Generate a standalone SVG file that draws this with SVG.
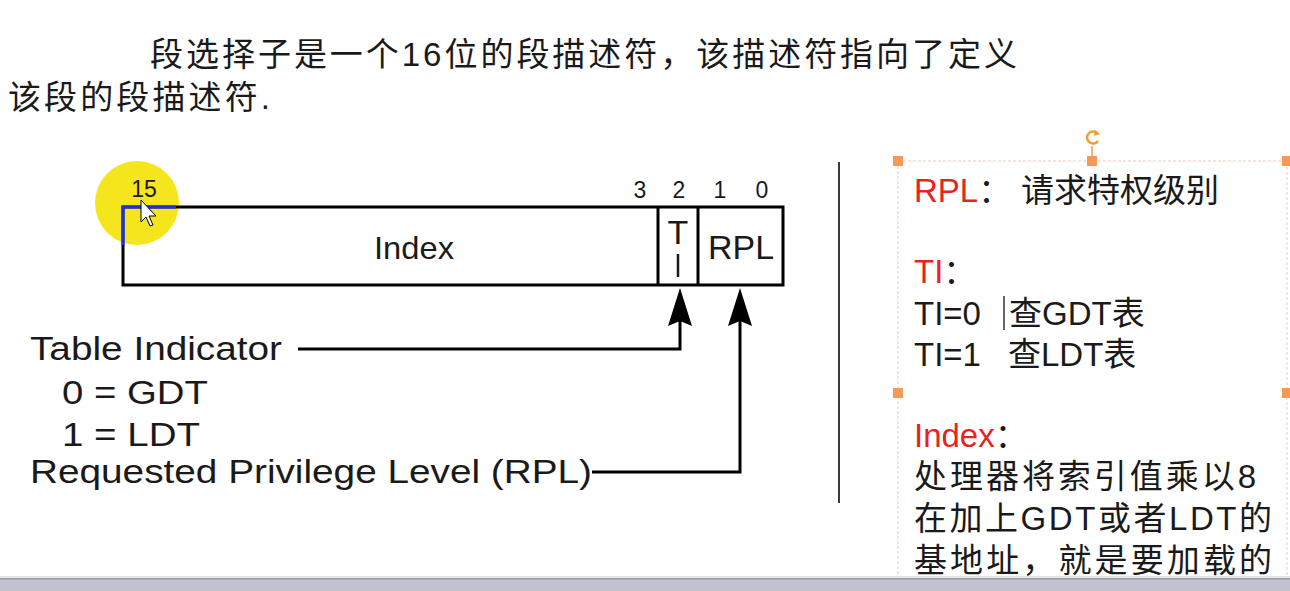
<svg xmlns="http://www.w3.org/2000/svg" width="1290" height="591" viewBox="0 0 1290 591">
<style>
.lat{font-family:"Liberation Sans",Arial,sans-serif;fill:#1a1a1a}
.cjk{font-family:"Liberation Sans","Noto Sans CJK SC",sans-serif;fill:#1a1a1a}
.red{fill:#e8231e}
.box{fill:none;stroke:#000;stroke-width:3}
.conn{fill:none;stroke:#000;stroke-width:3}
.handle{fill:#f39a5a}
</style>
<defs>
<marker id="ah" viewBox="-28 -13 42 26" refX="0" refY="0" markerWidth="42" markerHeight="26" markerUnits="userSpaceOnUse" orient="auto">
<path d="M12,0 L-26,-12 L-21,0 L-26,12 Z" fill="#000"/>
</marker>
</defs>
<rect width="1290" height="591" fill="#fff"/>

<g id="title">
<text class="cjk" x="150" y="66" font-size="33" textLength="867" lengthAdjust="spacing">段选择子是一个16位的段描述符，该描述符指向了定义</text>
<text class="cjk" x="8" y="109" font-size="33" textLength="262" lengthAdjust="spacing">该段的段描述符.</text>
</g>

<g id="highlight">
<circle cx="137" cy="203" r="42" fill="#f5e51c"/>
</g>

<g id="selector">
<rect class="box" x="123" y="207" width="660" height="78"/>
<line x1="658" y1="207" x2="658" y2="285" stroke="#000" stroke-width="3"/>
<line x1="698" y1="207" x2="698" y2="285" stroke="#000" stroke-width="3"/>
<path d="M123,245 V207 H176" fill="none" stroke="#1a2cff" stroke-width="3"/>
<text class="lat" x="144" y="197" font-size="23" text-anchor="middle">15</text>
<text class="lat" x="640" y="198" font-size="23" text-anchor="middle">3</text>
<text class="lat" x="679" y="198" font-size="23" text-anchor="middle">2</text>
<text class="lat" x="720" y="198" font-size="23" text-anchor="middle">1</text>
<text class="lat" x="762" y="198" font-size="23" text-anchor="middle">0</text>
<text class="lat" x="374" y="259" font-size="32" textLength="80" lengthAdjust="spacingAndGlyphs">Index</text>
<text class="lat" x="678" y="244" font-size="34" text-anchor="middle">T</text>
<line x1="678" y1="254" x2="678" y2="277" stroke="#1a1a1a" stroke-width="2.5"/>
<text class="lat" x="708" y="259" font-size="33" textLength="66" lengthAdjust="spacingAndGlyphs">RPL</text>
<path d="M141,200 L141,222 L146,217 L150,226 L153,225 L149,216 L156,216 Z" fill="#fff" stroke="#000" stroke-width="1"/>
</g>

<g id="labels">
<text class="lat" x="30" y="360" font-size="34" textLength="252" lengthAdjust="spacingAndGlyphs">Table Indicator</text>
<text class="lat" x="62" y="404" font-size="34" textLength="146" lengthAdjust="spacingAndGlyphs">0 = GDT</text>
<text class="lat" x="62" y="446" font-size="34" textLength="138" lengthAdjust="spacingAndGlyphs">1 = LDT</text>
<text class="lat" x="30" y="483" font-size="34" textLength="562" lengthAdjust="spacingAndGlyphs">Requested Privilege Level (RPL)</text>
</g>

<g id="connectors">
<path class="conn" d="M298,349 H680 V300" marker-end="url(#ah)"/>
<path class="conn" d="M592,472 H740 V300" marker-end="url(#ah)"/>
</g>

<g id="separator">
<line x1="839" y1="162" x2="839" y2="503" stroke="#3a3a3a" stroke-width="2"/>
</g>

<g id="notes">
<rect x="898" y="161" width="389" height="440" fill="none" stroke="#ecc9c2" stroke-width="1" stroke-dasharray="3,2"/>
<line x1="1092" y1="146" x2="1092" y2="161" stroke="#f39a5a" stroke-width="1.5"/>
<path d="M1097,133 A6,6 0 1 0 1098,141" fill="none" stroke="#f0a030" stroke-width="2.5"/>
<path d="M1095,130 L1100,134 L1094,136 Z" fill="#f0a030"/>
<rect class="handle" x="893" y="156" width="10" height="10"/>
<rect class="handle" x="1087" y="156" width="10" height="10"/>
<rect class="handle" x="1282" y="156" width="10" height="10"/>
<rect class="handle" x="893" y="388" width="10" height="10"/>
<rect class="handle" x="1282" y="388" width="10" height="10"/>
<text class="cjk" x="914" y="202" font-size="33"><tspan class="red">RPL</tspan>：<tspan x="1021">请求特权级别</tspan></text>
<text class="cjk" x="914" y="283" font-size="33"><tspan class="red">TI</tspan>：</text>
<text class="cjk" x="914" y="325" font-size="33">TI=0<tspan x="1009">查GDT表</tspan></text>
<line x1="1004" y1="296" x2="1004" y2="330" stroke="#333" stroke-width="1.5"/>
<text class="cjk" x="914" y="366" font-size="33">TI=1<tspan x="1008">查LDT表</tspan></text>
<text class="cjk" x="914" y="447" font-size="33"><tspan class="red">Index</tspan>：</text>
<text class="cjk" x="914" y="488" font-size="33" textLength="342" lengthAdjust="spacing">处理器将索引值乘以8</text>
<text class="cjk" x="914" y="530" font-size="33" textLength="358" lengthAdjust="spacing">在加上GDT或者LDT的</text>
<text class="cjk" x="914" y="572" font-size="33" textLength="358" lengthAdjust="spacing">基地址，就是要加载的</text>
</g>

<g id="statusbar">
<rect x="0" y="576" width="1290" height="15" fill="#c2c2d0"/>
<rect x="0" y="576" width="1290" height="2" fill="#e4e6ea"/>
<rect x="0" y="578" width="1290" height="1.5" fill="#9b9ba2"/>
</g>
</svg>
